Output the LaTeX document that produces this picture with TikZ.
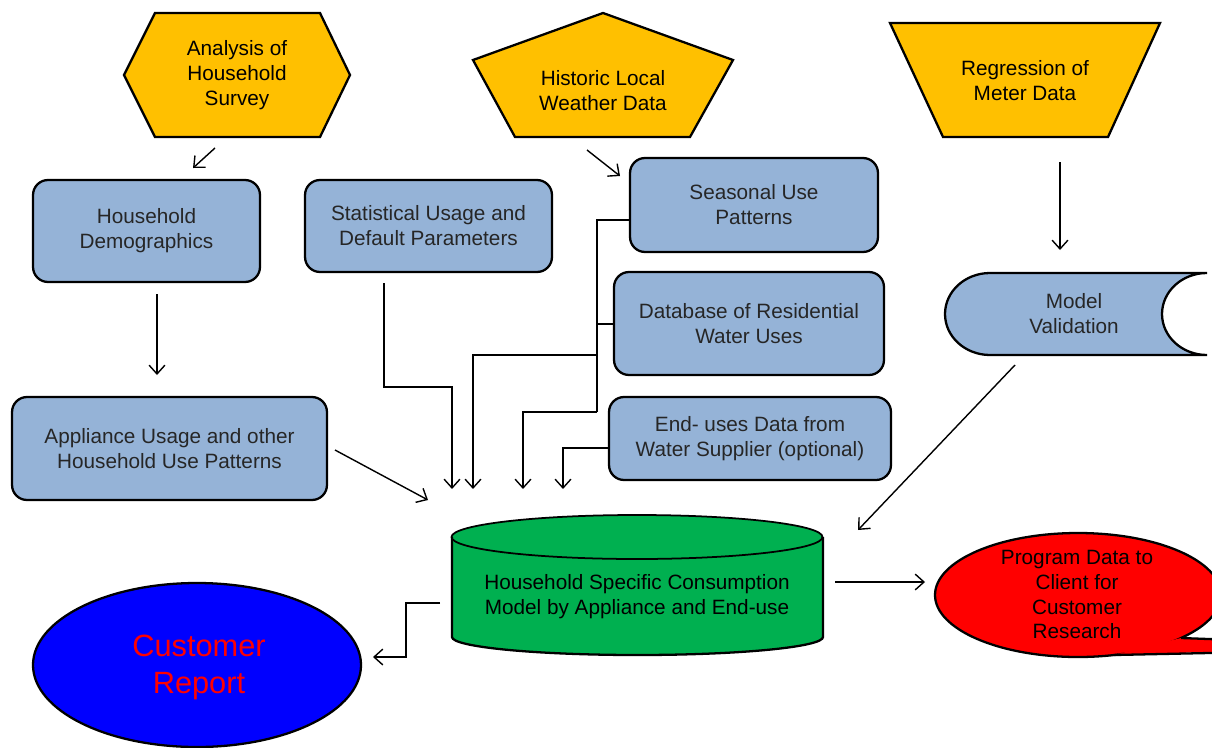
\documentclass[tikz,border=0pt]{standalone}
\usepackage{fontspec}
\setmainfont{Liberation Sans}
\usetikzlibrary{arrows.meta,calc}
\definecolor{gold}{HTML}{FFC000}
\definecolor{bgray}{HTML}{95B3D7}
\definecolor{cgreen}{HTML}{00B050}
\definecolor{cred}{HTML}{FF0000}
\definecolor{cblue}{HTML}{0000FF}
\begin{document}
\begin{tikzpicture}[x=0.02cm,y=-0.02cm,
  txt/.style={align=center,font=\fontsize{11.8}{14.2}\selectfont,text=black,inner sep=0pt},
  shp/.style={draw=black,line width=1.3pt,line join=miter},
  boxn/.style={shp,fill=bgray,rounded corners=0.3cm,align=center,font=\fontsize{11.8}{14.2}\selectfont,text=black!85},
  arr/.style={line width=0.8pt,-{Straight Barb[length=5pt,width=9pt,line width=0.8pt]}},
  ln/.style={line width=0.8pt}]
\useasboundingbox (0,0) rectangle (1212,747);
\begin{scope}
\clip (0,0) rectangle (1212,747);
% top shapes
\draw[shp,fill=gold] (155,13) -- (320,13) -- (350,75) -- (320,137) -- (155,137) -- (124,75) -- cycle;
\node[txt] (survey) at (237,75) {Analysis of\\Household\\Survey};
\draw[shp,fill=gold] (603,13) -- (733,60) -- (690,137) -- (515,137) -- (473,60) -- cycle;
\node[txt] (weather) at (603,90.5) {Historic Local\\Weather Data};
\draw[shp,fill=gold] (890,23) -- (1160,23) -- (1108,137) -- (943,137) -- cycle;
\node[txt] (regr) at (1025,80.5) {Regression of\\Meter Data};
% blue boxes
\node[boxn,minimum width=4.54cm,minimum height=2.04cm] (demo) at (146.5,231) {Household\\Demographics};
\node[boxn,minimum width=4.94cm,minimum height=1.84cm] (stat) at (428.5,226) {Statistical Usage and\\Default Parameters};
\node[boxn,minimum width=4.96cm,minimum height=1.88cm] (seas) at (754,205) {Seasonal Use\\Patterns};
\node[boxn,minimum width=5.40cm,minimum height=2.06cm] (db) at (749,323.5) {Database of Residential\\Water Uses};
\node[boxn,minimum width=5.64cm,minimum height=1.66cm] (endu) at (750,438.5) {End- uses Data from\\Water Supplier (optional)};
\node[boxn,minimum width=6.30cm,minimum height=2.06cm] (appl) at (169.5,448.5) {Appliance Usage and other\\Household Use Patterns};
% model validation
\draw[shp,fill=bgray] (990,273) -- (1207,273)
   arc[start angle=270,end angle=90,x radius=45,y radius=41]
   -- (990,355)
   arc[start angle=90,end angle=270,x radius=45,y radius=41] -- cycle;
\node[txt,text=black!85] (valid) at (1074,313.5) {Model\\Validation};
% cylinder
\fill[cgreen] (452,537) -- (452,637) arc[start angle=180,end angle=0,x radius=185.5,y radius=18]
   -- (823,537) arc[start angle=0,end angle=-180,x radius=185.5,y radius=22] -- cycle;
\draw[shp] (452,537) -- (452,637) arc[start angle=180,end angle=0,x radius=185.5,y radius=18] -- (823,537);
\draw[shp,line width=1pt] (637,537) ellipse [x radius=185.5,y radius=22];
\node[txt] (model) at (637,597) {Household Specific Consumption\\Model by Appliance and End-use};
% red callout
\draw[shp,fill=cred] (1078,595) ellipse [x radius=143,y radius=62];
\fill[cred] (1181,638) -- (1400,646) -- (1114,655) -- cycle;
\draw[shp] (1181,638) -- (1400,646);
\draw[shp] (1114,655) -- (1400,649);
\node[txt] (prog) at (1077,594.5) {Program Data to\\Client for\\Customer\\Research};
% customer report
\draw[shp,fill=cblue] (197,665) ellipse [x radius=164,y radius=82];
\node[txt,text=cred,font=\fontsize{17.5}{21}\selectfont] (report) at (199,667.5) {Customer\\Report};
\end{scope}
% connectors
\draw[arr] (215,148) -- (193,168);
\draw[arr] (587,150) -- (620,176);
\draw[arr] (1060,162) -- (1060,250);
\draw[arr] (157,294) -- (157,375);
\draw[arr] (335,450) -- (428,500);
\draw[arr] (384,283) -- (384,387) -- (452,387) -- (452,489);
\draw[ln] (seas.west |- 0,220) -- (597,220) -- (597,412);
\draw[ln] (db.west |- 0,324) -- (597,324);
\draw[arr] (597,355) -- (473,355) -- (473,489);
\draw[arr] (597,412) -- (523,412) -- (523,489);
\draw[arr] (endu.west |- 0,448) -- (563,448) -- (563,489);
\draw[arr] (1015,365) -- (858,530);
\draw[arr] (835,582) -- (925,582);
\draw[arr] (440,603) -- (406,603) -- (406,657) -- (373,657);
\end{tikzpicture}
\end{document}
